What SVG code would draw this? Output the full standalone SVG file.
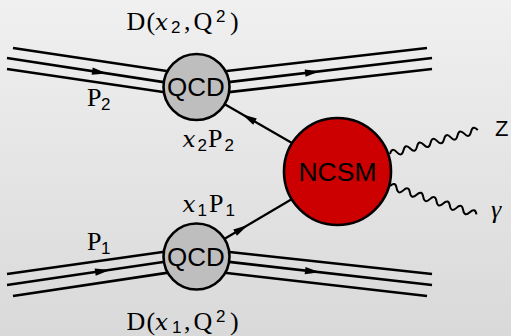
<svg xmlns="http://www.w3.org/2000/svg" xmlns:xlink="http://www.w3.org/1999/xlink" width="511" height="336" viewBox="0 0 511 336">
  <defs>
    <linearGradient id="bg" x1="0" y1="0" x2="0" y2="1">
      <stop offset="0" stop-color="#f0f0f0"/>
      <stop offset="1" stop-color="#d9d9d9"/>
    </linearGradient>
    <!-- slim filled arrowhead, tip at the origin, pointing along +x -->
    <path id="arr" d="M0,0 L-15,-3.6 L-15,3.6 Z" fill="#000"/>
    <!-- boson wiggle along +x, 13 half-waves -->
    <path id="wave" d="M0,0 q3.5,-6.5 7,0 t7,0 t7,0 t7,0 t7,0 t7,0 t7,0 t7,0 t7,0 t7,0 t7,0 t7,0 t7,0"/>
  </defs>
  <style>
    .beam { stroke: #000; stroke-width: 2.6; fill: none; stroke-linecap: butt; }
    .prop { stroke: #000; stroke-width: 2.2; fill: none; }
    .boson { stroke: #000; stroke-width: 2; fill: none; }
    .blob { stroke: #000; stroke-width: 2.6; }
    .qcd { fill: #bebebe; }
    .ncsm { fill: #cc0000; }
    .sans { font-family: "Liberation Sans", Arial, sans-serif; fill: #000; }
    .serif { font-family: "Liberation Serif", "Times New Roman", serif; fill: #000; font-size: 26px; }
    .mx { font-family: "DejaVu Serif", serif; font-style: italic; font-size: 23px; }
    .idx { font-family: "Liberation Sans", Arial, sans-serif; font-size: 17px; }
  </style>

  <rect x="0" y="0" width="511" height="336" fill="url(#bg)"/>

  <g id="connectors">
    <!-- incoming proton 2 -->
    <line class="beam" x1="13" y1="48" x2="175" y2="72.3"/>
    <line class="beam" x1="7" y1="58" x2="175" y2="83.9"/>
    <line class="beam" x1="7" y1="69" x2="175" y2="93.7"/>
    <!-- proton 2 remnant -->
    <line class="beam" x1="218" y1="72" x2="427" y2="48"/>
    <line class="beam" x1="218" y1="83.4" x2="432" y2="58"/>
    <line class="beam" x1="218" y1="93.4" x2="432" y2="69"/>
    <!-- incoming proton 1 -->
    <line class="beam" x1="7" y1="274" x2="175" y2="250.3"/>
    <line class="beam" x1="7" y1="285" x2="175" y2="260.2"/>
    <line class="beam" x1="13" y1="296" x2="175" y2="271.6"/>
    <!-- proton 1 remnant -->
    <line class="beam" x1="218" y1="250.7" x2="432" y2="274"/>
    <line class="beam" x1="218" y1="260.6" x2="432" y2="285"/>
    <line class="beam" x1="218" y1="272" x2="427" y2="296"/>

    <!-- beam direction arrows -->
    <use xlink:href="#arr" transform="translate(107,73.4) rotate(8.75)"/>
    <use xlink:href="#arr" transform="translate(320,71.3) rotate(-6.78)"/>
    <use xlink:href="#arr" transform="translate(110,269.9) rotate(-8.4)"/>
    <use xlink:href="#arr" transform="translate(320,272.3) rotate(6.5)"/>

    <!-- partons into the hard process -->
    <line class="prop" x1="220" y1="101.5" x2="295" y2="144.7"/>
    <line class="prop" x1="220" y1="241.5" x2="295" y2="197.3"/>
    <use xlink:href="#arr" transform="translate(242,114.2) rotate(209.9)"/>
    <use xlink:href="#arr" transform="translate(248,225) rotate(-30.6)"/>

    <!-- outgoing bosons -->
    <use xlink:href="#wave" class="boson" transform="translate(390,154) rotate(-15.3)"/>
    <use xlink:href="#wave" class="boson" transform="translate(390,186) rotate(18.2)"/>
  </g>

  <g id="qcd-top">
    <circle class="blob qcd" cx="196.5" cy="87" r="33"/>
    <text class="sans" x="196" y="96" font-size="26" text-anchor="middle">QCD</text>
  </g>

  <g id="qcd-bottom">
    <circle class="blob qcd" cx="196.5" cy="256.5" r="33"/>
    <text class="sans" x="196" y="265.5" font-size="26" text-anchor="middle">QCD</text>
  </g>

  <g id="ncsm">
    <circle class="blob ncsm" cx="337.5" cy="171.5" r="53.5"/>
    <text class="sans" x="337.5" y="181" font-size="26.5" text-anchor="middle">NCSM</text>
  </g>

  <g id="labels">
    <text class="serif" y="29.5"><tspan x="126.5">D</tspan><tspan x="146.5">(</tspan><tspan x="155" class="mx">x</tspan><tspan x="171" y="33" class="idx">2</tspan><tspan x="184" y="29.5">,</tspan><tspan x="193.5">Q</tspan><tspan x="216" y="22" class="idx">2</tspan><tspan x="230" y="29.5">)</tspan></text>
    <text class="serif" y="329.5"><tspan x="126.5">D</tspan><tspan x="146.5">(</tspan><tspan x="155" class="mx">x</tspan><tspan x="172" y="333" class="idx">1</tspan><tspan x="184" y="329.5">,</tspan><tspan x="193.5">Q</tspan><tspan x="216" y="322" class="idx">2</tspan><tspan x="230" y="329.5">)</tspan></text>

    <text class="serif" y="106"><tspan x="87">P</tspan><tspan x="101" y="110" class="idx">2</tspan></text>
    <text class="serif" y="249.5"><tspan x="87">P</tspan><tspan x="101" y="253.5" class="idx">1</tspan></text>

    <text class="serif" y="147"><tspan x="182.5" class="mx">x</tspan><tspan x="197.5" y="151" class="idx">2</tspan><tspan x="208" y="147">P</tspan><tspan x="224.5" y="151" class="idx">2</tspan></text>
    <text class="serif" y="212"><tspan x="182.5" class="mx">x</tspan><tspan x="197.5" y="216" class="idx">1</tspan><tspan x="209" y="212">P</tspan><tspan x="225.5" y="216" class="idx">1</tspan></text>

    <text class="sans" x="495" y="136" font-size="22">Z</text>
    <text class="serif" x="491" y="218" font-size="31" font-style="italic">γ</text>
  </g>
</svg>
